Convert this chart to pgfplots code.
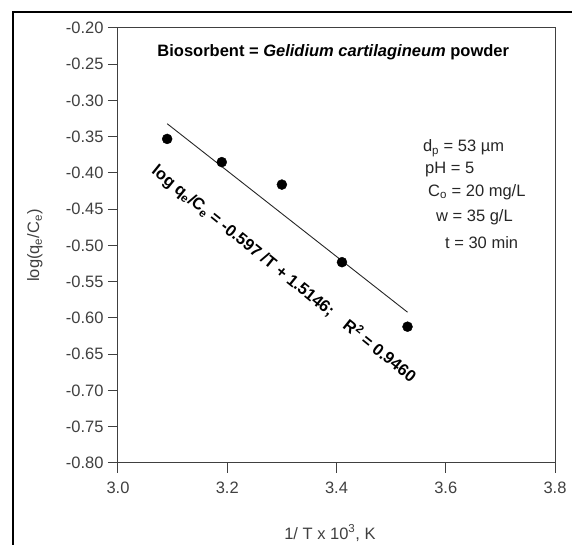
\documentclass[border=0pt]{standalone}
\usepackage{pgfplots}
\pgfplotsset{compat=1.18}
\usepackage{fontspec}
\setmainfont{Liberation Sans}
\begin{document}
\begin{tikzpicture}[x=1pt,y=1pt]
\useasboundingbox (-118,-82) rectangle (454,463);
\draw[line width=2.2pt] (-105,-120) -- (-105,451) -- (480,451);
\begin{axis}[
 at={(0,0)}, anchor=south west,
 scale only axis, width=437pt, height=435pt,
 xmin=3.0, xmax=3.8, ymin=-0.8, ymax=-0.2,
 xtick={3.0,3.2,3.4,3.6,3.8},
 ytick={-0.8,-0.75,-0.7,-0.65,-0.6,-0.55,-0.5,-0.45,-0.4,-0.35,-0.3,-0.25,-0.2},
 tick align=outside, major tick length=10pt, tick pos=left,
 axis line style={black!75, line width=1pt},
 tick style={black!75, line width=1pt},
 /pgf/number format/assume math mode=true,
 ticklabel style={font=\fontsize{16.5}{19}\selectfont, text=black!75},
 xticklabel style={yshift=-5pt, /pgf/number format/.cd, fixed, fixed zerofill, precision=1},
 yticklabel style={xshift=-1pt, /pgf/number format/.cd, fixed, fixed zerofill, precision=2},
 xlabel={1/ T x 10\textsuperscript{3}, K},
 ylabel={log(q\textsubscript{e}/C\textsubscript{e})},
 label style={font=\fontsize{16.5}{19}\selectfont, text=black!75},
 xlabel style={at={(axis description cs:0.485,-0.161)}, anchor=center},
 ylabel style={at={(axis description cs:-0.19,0.5)}, anchor=center},
 clip=false,
]
\addplot[only marks, mark=*, mark size=5pt, black] coordinates {
 (3.09,-0.353) (3.19,-0.385) (3.30,-0.416) (3.41,-0.523) (3.53,-0.612)
};
\addplot[black!85, line width=0.9pt, no marks] coordinates {
 (3.09,-0.332) (3.53,-0.592)
};
\node[font=\bfseries\fontsize{16.5}{19}\selectfont] at (axis cs:3.394,-0.2331)
 {Biosorbent = \textit{Gelidium cartilagineum} powder};
\node[rotate=-39, font=\bfseries\fontsize{16.5}{19}\selectfont] at (axis cs:3.304,-0.539)
 {log q\textsubscript{e}/C\textsubscript{e} = -0.597 /T + 1.5146;\quad R\textsuperscript{2} = 0.9460};
\begin{scope}[every node/.style={anchor=west, inner sep=0pt, font=\fontsize{16.5}{19}\selectfont, text=black!85}]
\node at (axis cs:3.558,-0.3655) {d\textsubscript{p} = 53 µm};
\node at (axis cs:3.562,-0.3959) {pH = 5};
\node at (axis cs:3.5675,-0.426) {C\textsubscript{o} = 20 mg/L};
\node at (axis cs:3.582,-0.4607) {w = 35 g/L};
\node at (axis cs:3.5986,-0.4966) {t = 30 min};
\end{scope}
\end{axis}
\end{tikzpicture}
\end{document}
